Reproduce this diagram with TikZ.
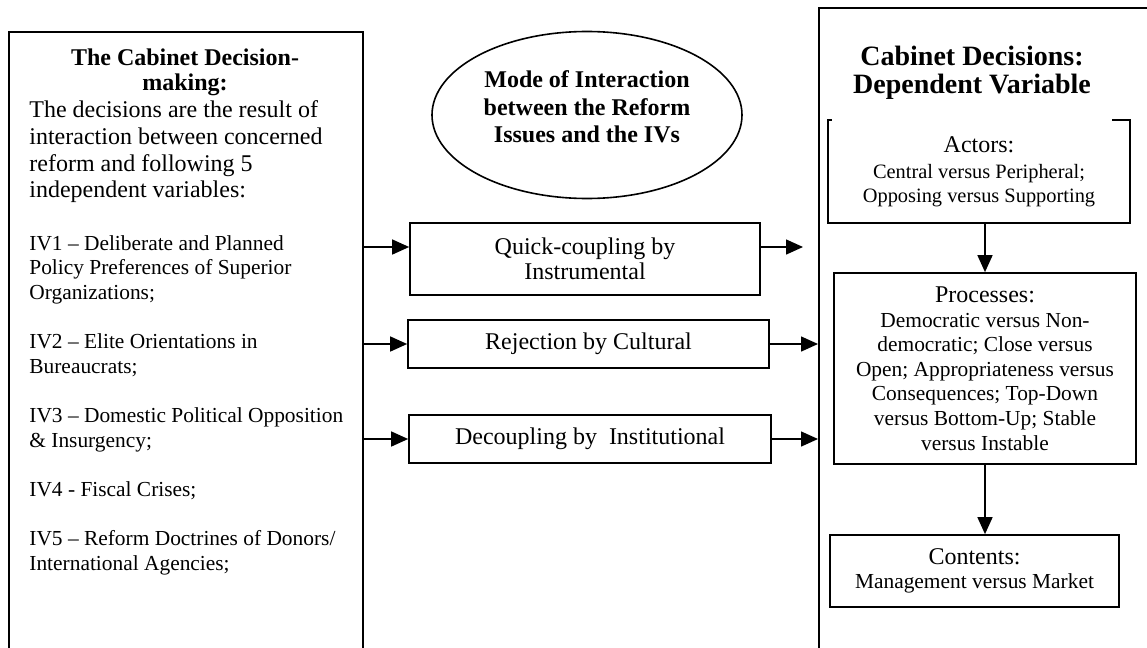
\documentclass[tikz,border=0pt]{standalone}
\usepackage{fontspec}
\setmainfont{Liberation Serif}
\usetikzlibrary{arrows.meta,shapes.geometric}

\tikzset{
  box/.style={draw, line width=0.85pt, inner sep=0pt, align=center},
  conn/.style={-{Triangle[length=8.5pt,width=7.5pt]}, line width=0.75pt},
  big/.style={font=\fontsize{12}{12.5}\selectfont},
  small/.style={font=\fontsize{10.7}{12.3}\selectfont}
}

\begin{document}
\begin{tikzpicture}[x=0.5pt,y=-0.5pt]
            \useasboundingbox (0,0) rectangle (1147,648);
            \clip (0,0) rectangle (1147,648);

            \node[box, anchor=north west, minimum width=177pt, minimum height=314.5pt] (cabinet) at (8,31) {};
            \node[align=center, font=\bfseries\fontsize{12}{12.5}\selectfont] (cabtitle) at (185,72) {The Cabinet Decision-\\making:};
            \node[align=left, anchor=west, font=\fontsize{12}{13.3}\selectfont, inner sep=0pt] (cabintro) at (29,152) {The decisions are the result of\\interaction between concerned\\reform and following 5\\independent variables:};
            \node[align=left, anchor=west, small, inner sep=0pt] (ivlist) at (29,405) {IV1 – Deliberate and Planned\\Policy Preferences of Superior\\Organizations;\\[12.3pt]IV2 – Elite Orientations in\\Bureaucrats;\\[12.3pt]IV3 – Domestic Political Opposition\\\& Insurgency;\\[12.3pt]IV4 - Fiscal Crises;\\[12.3pt]IV5 – Reform Doctrines of Donors/\\International Agencies;};

            \node[draw, ellipse, line width=0.8pt, inner sep=0pt, minimum width=155pt, minimum height=83.5pt] (mode) at (587,115) {};
            \node[align=center, font=\bfseries\fontsize{12}{13.75}\selectfont] (modetext) at (587,107) {Mode of Interaction\\between the Reform\\Issues and the IVs};

            \node[box, big, minimum width=175pt, minimum height=36pt] (quick) at (585,259) {Quick-coupling by\\Instrumental};
            \node[box, big, minimum width=180.5pt, minimum height=24pt] (reject) at (588.5,344) {Rejection by Cultural};
            \node[box, big, minimum width=181pt, minimum height=24pt] (decouple) at (590,439) {Decoupling by\ \ Institutional};

            \node[box, anchor=north west, minimum width=176pt, minimum height=326.5pt] (decision) at (818,7) {};
            \node[box, minimum width=151pt, minimum height=51.5pt] (actors) at (979,171.5) {{\fontsize{12}{13}\selectfont Actors:}\\[1pt]{\fontsize{10.2}{12}\selectfont Central versus Peripheral;}\\{\fontsize{10.2}{12}\selectfont Opposing versus Supporting}};
            \node[fill=white, align=center, inner sep=0pt, minimum width=140pt, minimum height=50pt, font=\bfseries\fontsize{14}{14}\selectfont] (dectitle) at (972,73) {Cabinet Decisions:\\Dependent Variable};
            \node[box, small, minimum width=151pt, minimum height=95.5pt] (processes) at (985,368.5) {{\fontsize{12}{13}\selectfont Processes:}\\Democratic versus Non-\\democratic; Close versus\\Open; Appropriateness versus\\Consequences; Top-Down\\versus Bottom-Up; Stable\\versus Instable};
            \node[box, small, minimum width=144.5pt, minimum height=36pt] (contents) at (974.5,571) {{\fontsize{12}{13}\selectfont Contents:}\\Management versus Market};

            \coordinate (quickin) at ([yshift=6pt]quick.west);
            \coordinate (quickout) at ([yshift=6pt]quick.east);

            \draw[conn] (cabinet.east |- quickin) -- (quickin);
            \draw[conn] (cabinet.east |- reject.west) -- (reject.west);
            \draw[conn] (cabinet.east |- decouple.west) -- (decouple.west);
            \draw[conn, shorten >=7.5pt] (quickout) -- (quickout -| decision.west);
            \draw[conn] (reject.east) -- (reject.east -| decision.west);
            \draw[conn] (decouple.east) -- (decouple.east -| decision.west);
            \draw[conn] (processes.north |- actors.south) -- (processes.north);
            \draw[conn] (processes.south) -- (processes.south |- contents.north);
        \end{tikzpicture}
\end{document}
